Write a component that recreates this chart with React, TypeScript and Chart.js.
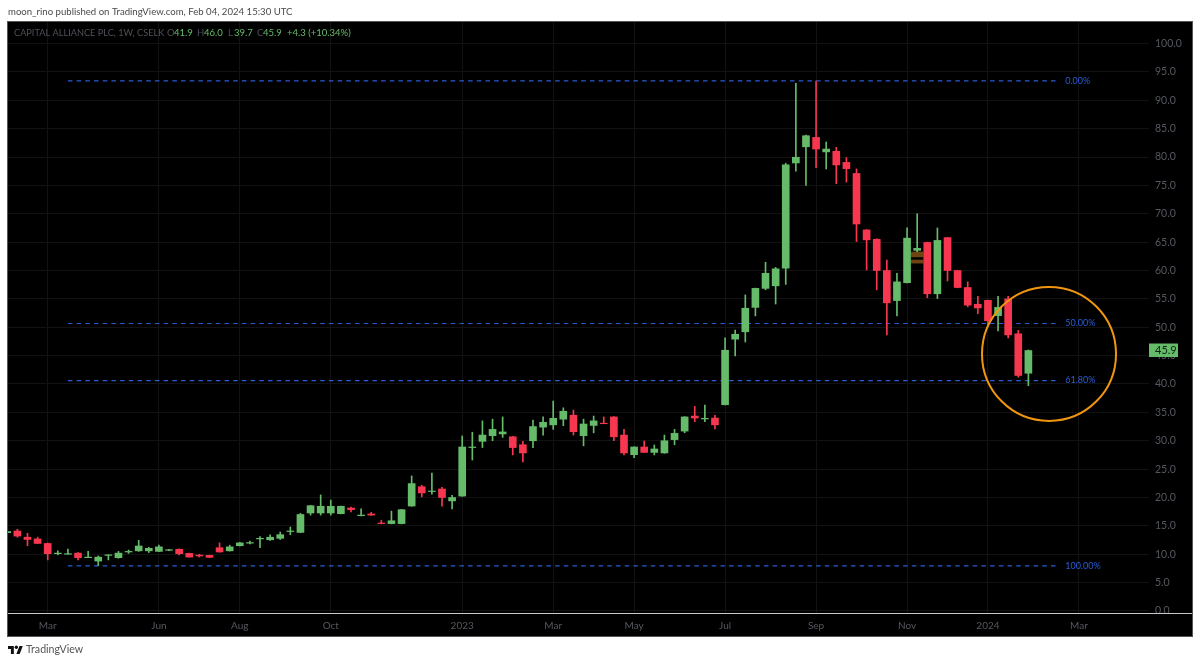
import React, { useEffect, useRef } from "react";
import { Chart, registerables } from "chart.js";

Chart.register(...registerables);

const opens = [
  13.8, 14.1, 13.0, 12.7, 11.9, 10.1, 10.0, 10.2, 9.4, 8.8,
  9.8, 9.4, 10.4, 10.6, 10.6, 10.5, 10.7, 10.87, 10.15, 9.85,
  9.8, 11.15, 10.6, 11.5, 11.95, 12.7, 12.55, 12.8, 14.0, 13.85,
  17.27, 17.27, 17.27, 17.15, 18.15, 16.8, 17.1, 15.5, 15.4, 15.4,
  18.5, 21.9, 21.05, 21.5, 19.4, 20.25, 28.8, 29.9, 30.9, 31.2,
  30.7, 29.3, 30.0, 32.4, 32.8, 33.8, 34.5, 30.9, 32.7, 33.1,
  34.2, 31.0, 27.55, 28.9, 27.95, 27.85, 30.2, 31.7, 34.35, 33.85,
  34.0, 36.35, 47.9, 49.2, 53.5, 56.85, 57.3, 60.4, 78.95, 81.8,
  83.45, 80.9, 81.0, 79.05, 77.1, 67.15, 65.5, 60.0, 54.7, 57.85,
  63.55, 64.95, 55.9, 65.8, 60.0, 57.0, 54.05, 54.75, 52.05, 55.0,
  48.85, 41.9,
];
const highs = [
  14.1, 14.4, 13.7, 13.0, 12.0, 10.6, 10.9, 10.3, 10.5, 9.7,
  9.9, 10.5, 10.75, 12.45, 11.2, 11.6, 10.85, 10.95, 10.2, 10.0,
  9.85, 12.0, 11.6, 12.1, 12.3, 13.1, 13.4, 13.9, 14.8, 17.2,
  18.6, 20.45, 19.55, 18.5, 18.3, 18.0, 17.4, 15.97, 17.6, 17.9,
  23.8, 22.15, 24.3, 21.8, 20.4, 30.85, 31.5, 33.5, 33.8, 34.2,
  30.75, 29.9, 33.65, 34.2, 37.0, 35.8, 35.4, 33.8, 34.35, 34.2,
  34.25, 32.0, 28.95, 29.95, 29.25, 31.0, 32.0, 34.25, 36.05, 36.3,
  34.5, 48.15, 49.5, 55.7, 56.9, 61.45, 60.55, 78.9, 93.0, 83.85,
  93.4, 82.65, 81.7, 79.9, 77.9, 67.2, 65.6, 61.85, 59.5, 67.5,
  70.0, 65.0, 67.5, 65.85, 60.05, 58.0, 55.45, 54.8, 55.45, 55.45,
  49.45, 46.0,
];
const lows = [
  13.7, 13.0, 11.5, 11.9, 9.0, 9.9, 10.0, 9.0, 9.4, 8.0,
  9.0, 9.3, 10.15, 10.5, 10.3, 10.45, 10.65, 9.9, 9.5, 9.5,
  9.4, 10.35, 10.55, 11.45, 11.8, 11.15, 12.45, 12.6, 13.45, 13.8,
  16.9, 16.9, 16.9, 17.1, 17.45, 16.75, 16.85, 15.35, 15.35, 15.35,
  18.45, 20.1, 20.6, 18.45, 18.0, 20.2, 26.6, 28.8, 30.0, 30.6,
  27.5, 26.25, 28.8, 31.0, 32.0, 32.65, 31.0, 29.1, 31.4, 33.0,
  30.0, 27.5, 27.0, 27.9, 27.5, 27.8, 29.3, 31.4, 33.35, 33.35,
  32.1, 36.3, 44.95, 47.4, 52.0, 56.6, 54.1, 57.55, 77.5, 75.0,
  78.1, 77.9, 75.3, 75.6, 65.1, 60.1, 56.6, 48.65, 52.0, 57.8,
  63.3, 55.2, 55.05, 58.15, 56.95, 53.6, 52.4, 50.2, 49.35, 48.1,
  41.2, 39.7,
];
const closes = [
  14.0, 13.2, 12.6, 11.9, 10.1, 10.2, 10.1, 9.4, 9.5, 9.5,
  9.9, 10.2, 10.5, 11.45, 11.05, 11.3, 10.8, 10.1, 9.5, 9.7,
  9.45, 10.4, 11.3, 12.0, 12.05, 12.8, 13.0, 13.45, 14.1, 17.0,
  18.55, 18.45, 18.45, 18.45, 17.85, 16.9, 16.9, 15.4, 15.9, 17.85,
  22.45, 20.8, 21.15, 20.0, 20.0, 28.9, 28.9, 31.0, 32.0, 31.55,
  28.8, 27.85, 32.5, 33.25, 33.95, 35.2, 31.6, 32.95, 33.5, 33.0,
  30.7, 27.85, 28.9, 27.95, 28.55, 30.0, 31.3, 34.2, 34.0, 33.95,
  32.8, 45.95, 48.75, 53.35, 56.85, 59.5, 60.3, 78.6, 79.95, 83.75,
  81.4, 81.4, 78.6, 77.95, 68.2, 65.4, 60.0, 54.3, 58.0, 65.7,
  63.9, 55.9, 65.3, 60.0, 57.0, 53.9, 53.4, 51.15, 53.5, 48.65,
  41.5, 45.9,
];

const monthTickIndex = [4, 15, 23, 32, 45, 54, 62, 71, 80, 89, 97, 106];
const monthTickLabel = ["Mar", "Jun", "Aug", "Oct", "2023", "Mar", "May", "Jul", "Sep", "Nov", "2024", "Mar"];
const priceTicks = [0, 5, 10, 15, 20, 25, 30, 35, 40, 45, 50, 55, 60, 65, 70, 75, 80, 85, 90, 95, 100];

const fibLevels = [93.4, 50.66, 40.6, 7.95];
const fibLabels = ["0.00%", "50.00%", "61.80%", "100.00%"];
const fibStartIndex = 6;
const fibEndIndex = 103.9;

const highlightIndex = [90, 90];
const highlightLow = [62.4, 61.3];
const highlightHigh = [63.26, 61.85];

const circleCentre = { x: 103.04, y: 45.3, r: 67 };
const lastPrice = 45.9;

const publishedText = "moon_rino published on TradingView.com, Feb 04, 2024 15:30 UTC";
const symbolText = "CAPITAL ALLIANCE PLC, 1W, CSELK";

const UP = "#66bb6a";
const DOWN = "#f7374f";
const FONT = 'Lato, "Noto Sans", sans-serif';

const isUp = (i: number) => closes[i] >= opens[i];
const candleColor = (ctx: any) => (isUp(ctx.dataIndex) ? UP : DOWN);

const chrome = {
  id: "chrome",
  beforeDraw(chart: any) {
    const { ctx } = chart;
    ctx.save();
    ctx.fillStyle = "#000";
    ctx.fillRect(8, 22, 1184, 614);
    ctx.strokeStyle = "#555";
    ctx.lineWidth = 1;
    ctx.strokeRect(7.5, 21.5, 1185, 615);
    ctx.restore();
  },
  afterDraw(chart: any) {
    const { ctx, scales } = chart;
    const y = scales.y;
    const x = scales.x;
    ctx.save();
    // axis separator
    ctx.strokeStyle = "#c8c8c8";
    ctx.lineWidth = 1;
    ctx.beginPath();
    ctx.moveTo(8, 613.5);
    ctx.lineTo(1192, 613.5);
    ctx.stroke();

    // page captions
    ctx.textBaseline = "middle";
    ctx.textAlign = "left";
    ctx.font = `9.6px ${FONT}`;
    ctx.fillStyle = "#4a4a4a";
    ctx.fillText(publishedText, 8, 12);
    ctx.font = `10.6px ${FONT}`;
    ctx.fillStyle = "#555";
    ctx.fillText("TradingView", 26, 650);
    ctx.fillStyle = "#111";
    ctx.translate(8, 646);
    ctx.scale(15 / 36, 8 / 18);
    ctx.translate(0, -4);
    ctx.fill(new Path2D("M14 22H7V11H0V4h14v18zM28 22h-8l7.5-18h8L28 22z"));
    ctx.beginPath();
    ctx.arc(20, 7, 4, 0, Math.PI * 2);
    ctx.fill();
    ctx.setTransform(chart.currentDevicePixelRatio, 0, 0, chart.currentDevicePixelRatio, 0, 0);

    // symbol legend
    ctx.font = `9.2px ${FONT}`;
    ctx.fillStyle = "#4e5158";
    ctx.fillText(symbolText, 14, 33);
    ctx.font = `9.5px ${FONT}`;
    const legendParts: [string, number, string][] = [
      ["O", 167, "#4e5158"], ["41.9", 174, UP],
      ["H", 197, "#4e5158"], ["46.0", 204, UP],
      ["L", 228, "#4e5158"], ["39.7", 234, UP],
      ["C", 257, "#4e5158"], ["45.9", 263, UP],
      ["+4.3 (+10.34%)", 287, UP],
    ];
    legendParts.forEach(([t, px, c]) => {
      ctx.fillStyle = c;
      ctx.fillText(t, px, 33);
    });

    // fib labels
    ctx.font = `9px ${FONT}`;
    ctx.fillStyle = "#2a5cd6";
    fibLevels.forEach((lvl, i) => {
      ctx.fillText(fibLabels[i], x.getPixelForValue(fibEndIndex) + 7.5, y.getPixelForValue(lvl));
    });

    // last price tag
    const py = y.getPixelForValue(lastPrice);
    ctx.fillStyle = UP;
    ctx.fillRect(1149, py - 7, 29, 13.5);
    ctx.fillStyle = "#0c2410";
    ctx.font = `11px ${FONT}`;
    ctx.fillText(lastPrice.toFixed(1), 1155, py);
    ctx.restore();
  },
};

export default function App() {
  const ref = useRef<HTMLCanvasElement>(null);
  useEffect(() => {
    const chart = new Chart(ref.current as HTMLCanvasElement, {
      type: "bar",
      data: {
        datasets: [
          {
            type: "bubble",
            data: [circleCentre],
            backgroundColor: "transparent",
            borderColor: "#f0950f",
            borderWidth: 2,
            order: 0,
          },
          {
            type: "bar",
            data: opens.map((o, i) => ({ x: i, y: [o, closes[i]] })),
            backgroundColor: candleColor,
            borderWidth: 0,
            barThickness: 7,
            grouped: false,
            order: 1,
          },
          {
            type: "bar",
            data: highs.map((h, i) => ({ x: i, y: [lows[i], h] })),
            backgroundColor: candleColor,
            borderWidth: 0,
            barThickness: 1,
            grouped: false,
            order: 2,
          },
          {
            type: "bar",
            data: highlightIndex.map((v, i) => ({ x: v, y: [highlightLow[i], highlightHigh[i]] })),
            backgroundColor: "#6e4512",
            borderWidth: 0,
            barThickness: 12,
            grouped: false,
            order: 3,
          },
          ...fibLevels.map((lvl) => ({
            type: "line",
            data: [
              { x: fibStartIndex, y: lvl },
              { x: fibEndIndex, y: lvl },
            ],
            borderColor: "#2a5cd6",
            borderWidth: 1.2,
            borderDash: [4.5, 4.2],
            pointRadius: 0,
            order: 4,
          })),
        ] as any,
      },
      options: {
        animation: false,
        responsive: false,
        devicePixelRatio: 1,
        events: [],
        layout: { autoPadding: false, padding: { left: 8, top: 22, right: 8, bottom: 28 } },
        plugins: { legend: { display: false }, tooltip: { enabled: false }, title: { display: false } },
        scales: {
          x: {
            type: "linear",
            offset: false,
            min: 0.073,
            max: 112.93,
            border: { display: false },
            grid: { color: "#121212", lineWidth: 1, offset: false, drawTicks: false },
            afterBuildTicks: (s: any) => {
              s.ticks = monthTickIndex.map((value) => ({ value }));
            },
            afterFit: (s: any) => {
              s.height = 22;
            },
            ticks: {
              autoSkip: false,
              maxRotation: 0,
              padding: 6,
              color: "#55585f",
              font: { family: FONT, size: 10 },
              callback: (v: any) => monthTickLabel[monthTickIndex.indexOf(Number(v))] ?? "",
            },
          },
          y: {
            type: "linear",
            position: "right",
            min: -0.53,
            max: 103.79,
            beginAtZero: false,
            border: { display: false },
            grid: { color: "#121212", lineWidth: 1, drawTicks: false },
            afterBuildTicks: (s: any) => {
              s.ticks = priceTicks.map((value) => ({ value }));
            },
            afterFit: (s: any) => {
              s.width = 43;
            },
            ticks: {
              padding: 6,
              color: "#55585f",
              font: { family: FONT, size: 10.5 },
              callback: (v: any) => Number(v).toFixed(1),
            },
          },
        },
      },
      plugins: [chrome],
    } as any);
    return () => chart.destroy();
  }, []);
  return (
    <div style={{ position: "absolute", left: 0, top: 0, width: 1200, height: 664, background: "#fff" }}>
      <canvas ref={ref} width={1200} height={664} style={{ display: "block" }} />
    </div>
  );
}
